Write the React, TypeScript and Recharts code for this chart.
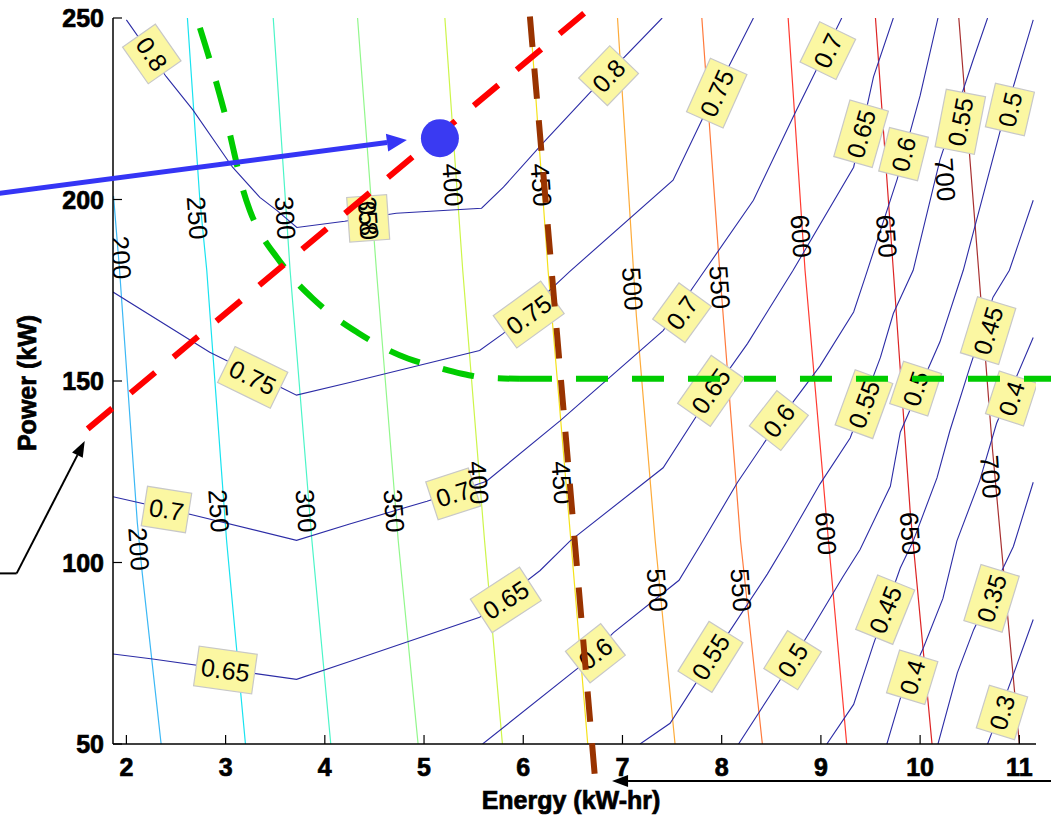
import React from "react";
import {
  ComposedChart,
  Line,
  Scatter,
  XAxis,
  YAxis,
  ReferenceLine,
  ReferenceDot,
  Label,
} from "recharts";

type Pt = [number, number];

const FONT = "Arial, 'Liberation Sans', Helvetica, sans-serif";

const xTicks = [2, 3, 4, 5, 6, 7, 8, 9, 10, 11];
const yTicks = [50, 100, 150, 200, 250];
const xDomain: [number, number] = [1.865, 11.168];
const yDomain: [number, number] = [50, 250];

// energy contours
const e200: Pt[] = [[1.87, 201], [1.93, 181], [2.11, 111], [2.16, 97], [2.35, 50]];
const e250: Pt[] = [[2.615, 250], [2.74, 200], [2.81, 180.5], [3.01, 106], [3.2, 50]];
const e300: Pt[] = [[3.48, 250], [3.65, 180.5], [3.87, 106], [4.06, 50]];
const e350: Pt[] = [[4.33, 250], [4.52, 180.5], [4.74, 106], [4.94, 50]];
const e400: Pt[] = [[5.21, 250], [5.39, 180.5], [5.61, 106], [5.79, 50]];
const e450: Pt[] = [[6.07, 250], [6.25, 180.5], [6.48, 106], [6.65, 50]];
const e500: Pt[] = [[6.95, 250], [7.14, 168], [7.33, 106], [7.53, 50]];
const e550: Pt[] = [[7.8, 250], [7.98, 180.5], [8.19, 106], [8.41, 50]];
const e600: Pt[] = [[8.67, 250], [8.84, 180.5], [9.05, 114], [9.26, 50]];
const e650: Pt[] = [[9.55, 250], [9.73, 180.5], [9.9, 114], [10.12, 50]];
const e700: Pt[] = [[10.39, 250], [10.59, 180.5], [10.73, 131], [11.0, 50]];

const energyLines = [e200, e250, e300, e350, e400, e450, e500, e550, e600, e650, e700];
const energyColors = [
  "#3cb8f5", "#19e3f0", "#4cf5c8", "#92f78c", "#cdf54a", "#f5e21a",
  "#fdab3a", "#ff7a3c", "#ff3a30", "#dd2424", "#a83030",
];

// efficiency contours
const eff80: Pt[] = [[2.0, 249.5], [2.4, 233.9], [2.67, 224.7], [3.07, 208.9], [3.345, 200.6], [3.516, 197], [3.718, 192.3], [4.2, 194], [4.72, 196.2], [5.58, 197.6], [5.8, 203.4], [6.2, 215.6], [6.67, 229.4], [7.4, 250]];
const eff75: Pt[] = [[1.865, 174.5], [2.84, 157.9], [3.715, 146.1], [4.25, 149.6], [5.56, 158.4], [5.8, 163.1], [6.47, 180.2], [7.51, 205.3], [7.85, 224.7], [8.32, 250]];
const eff70: Pt[] = [[1.865, 118.1], [2.64, 113.3], [3.715, 106.1], [4.25, 110.6], [5.03, 116.9], [5.63, 122.4], [6.37, 139], [7.41, 163.9], [7.78, 178.5], [8.32, 199.8], [8.72, 222.7], [8.92, 233.8], [9.21, 250]];
const eff65: Pt[] = [[1.865, 74.8], [2.265, 73.4], [3.715, 67.8], [4.25, 72.7], [5.56, 84.9], [6.17, 97.8], [6.47, 105.9], [7.41, 126.1], [7.78, 141.8], [8.26, 160.3], [8.72, 180.5], [9.33, 208.9], [9.53, 233.8], [9.73, 250]];
const eff60: Pt[] = [[5.59, 50], [6.57, 71.3], [6.91, 80.7], [7.57, 95.1], [7.81, 105.9], [8.16, 122.1], [8.59, 139.5], [8.99, 154.1], [9.33, 169], [9.45, 178.9], [9.77, 205.7], [10.0, 228.6], [10.18, 250]];
const eff55: Pt[] = [[7.177, 50], [7.48, 55.7], [7.9, 73.6], [8.46, 96.8], [8.66, 105.9], [8.99, 121.6], [9.295, 134.3], [9.6, 156.5], [9.73, 168.6], [9.93, 180.5], [10.2, 210.9], [10.535, 238.5], [10.68, 250]];
const eff50: Pt[] = [[8.17, 50], [8.59, 67.7], [8.92, 82.3], [9.225, 96.2], [9.395, 103.6], [9.7, 121], [9.8, 135.9], [10.2, 160.8], [10.435, 180.5], [10.81, 219.2], [11.14, 249.5]];
const eff45: Pt[] = [[9.06, 50], [9.33, 60.9], [9.53, 77.5], [9.8, 98.5], [9.93, 105.9], [10.17, 123.3], [10.3, 136.3], [10.5, 153.7], [10.735, 173.1], [10.9, 180.5], [11.14, 199.8]];
const eff40: Pt[] = [[9.665, 50], [9.8, 62.5], [10.03, 76.3], [10.23, 90.1], [10.37, 105.9], [10.6, 122.5], [10.77, 138.3], [11.14, 162]];
const eff35: Pt[] = [[10.18, 50], [10.375, 69.6], [10.54, 81.5], [10.94, 104.4], [11.14, 122.1]];
const eff30: Pt[] = [[10.68, 50], [10.81, 59.4], [11.14, 84.3]];

const effLines = [eff80, eff75, eff70, eff65, eff60, eff55, eff50, eff45, eff40, eff35, eff30];

// contour labels: value, position, angle along the contour
const effLabels = [
  { text: "0.8", x: 2.256, y: 240.1, rot: 55 },
  { text: "0.8", x: 4.437, y: 194.8, rot: 86 },
  { text: "0.8", x: 6.86, y: 234.1, rot: -46 },
  { text: "0.75", x: 3.273, y: 151, rot: 26 },
  { text: "0.75", x: 6.055, y: 168.3, rot: -36 },
  { text: "0.75", x: 7.95, y: 229.3, rot: -66 },
  { text: "0.7", x: 2.404, y: 114.6, rot: 9 },
  { text: "0.7", x: 5.294, y: 118.9, rot: -18 },
  { text: "0.7", x: 7.6, y: 168.8, rot: -54 },
  { text: "0.7", x: 9.07, y: 241, rot: -64 },
  { text: "0.65", x: 2.998, y: 70.4, rot: 8 },
  { text: "0.65", x: 5.824, y: 89.7, rot: -33 },
  { text: "0.65", x: 7.89, y: 147.3, rot: -55 },
  { text: "0.65", x: 9.405, y: 218.1, rot: -74 },
  { text: "0.6", x: 6.727, y: 75, rot: -38 },
  { text: "0.6", x: 8.576, y: 139.1, rot: -52 },
  { text: "0.6", x: 9.833, y: 212.5, rot: -76 },
  { text: "0.55", x: 7.887, y: 74, rot: -58 },
  { text: "0.55", x: 9.434, y: 143.6, rot: -70 },
  { text: "0.55", x: 10.405, y: 221.4, rot: -79 },
  { text: "0.5", x: 8.715, y: 73.1, rot: -58 },
  { text: "0.5", x: 9.955, y: 147.9, rot: -72 },
  { text: "0.5", x: 10.905, y: 224.8, rot: -77 },
  { text: "0.45", x: 9.648, y: 87, rot: -68 },
  { text: "0.45", x: 10.685, y: 163.9, rot: -73 },
  { text: "0.4", x: 9.92, y: 68.4, rot: -73 },
  { text: "0.4", x: 10.92, y: 145.2, rot: -72 },
  { text: "0.35", x: 10.72, y: 90.1, rot: -73 },
  { text: "0.3", x: 10.825, y: 58.7, rot: -73 },
];

const energyLabels = [
  { text: "200", x: 1.944, y: 184 },
  { text: "200", x: 2.125, y: 103.7 },
  { text: "250", x: 2.714, y: 194.9 },
  { text: "250", x: 2.93, y: 114.2 },
  { text: "300", x: 3.601, y: 194.9 },
  { text: "300", x: 3.81, y: 114.2 },
  { text: "350", x: 4.437, y: 194.8 },
  { text: "350", x: 4.696, y: 114.2 },
  { text: "400", x: 5.29, y: 204 },
  { text: "400", x: 5.545, y: 122 },
  { text: "450", x: 6.18, y: 204 },
  { text: "450", x: 6.39, y: 122 },
  { text: "500", x: 7.1, y: 175.4 },
  { text: "500", x: 7.35, y: 92.4 },
  { text: "550", x: 7.98, y: 175.8 },
  { text: "550", x: 8.195, y: 92.4 },
  { text: "600", x: 8.8, y: 189.9 },
  { text: "600", x: 9.05, y: 108 },
  { text: "650", x: 9.66, y: 189.9 },
  { text: "650", x: 9.9, y: 108 },
  { text: "700", x: 10.25, y: 205.5 },
  { text: "700", x: 10.71, y: 123.6 },
];

// overlays
const greenCurve: Pt[] = [[2.741, 247.3], [2.84, 238.5], [2.941, 228.8], [3.022, 220.5], [3.092, 212.2], [3.163, 203.9], [3.244, 197.0], [3.365, 190.1], [3.516, 184.1], [3.698, 177.7], [3.88, 172.7], [4.081, 168.0], [4.333, 163.3], [4.555, 159.7], [4.837, 156.2], [5.079, 154.2], [5.382, 152.0], [5.634, 150.9], [5.967, 150.6]];
const greenTail: Pt[] = [[5.967, 150.6], [11.32, 150.6]];
const redLine: Pt[] = [[1.61, 136.8], [6.622, 251.5]];
const brownLine: Pt[] = [[6.067, 250.4], [6.72, 41.6]];
const operatingPoint: Pt = [5.16, 216.9];
const blueArrow: Pt[] = [[0.722, 201.7], [4.827, 216.4]];
const leftArrowTail: Pt[] = [[0.722, 97], [0.894, 97]];
const leftArrow: Pt[] = [[0.894, 97], [1.58, 133.5]];
const bottomArrow: Pt[] = [[11.32, 39.8], [6.895, 39.8]];

const toXY = (pts: Pt[]) => pts.map(([x, y]) => ({ x, y }));

const charW = (s: string) =>
  s.split("").reduce((w, c) => w + (c === "." ? 0.278 : 0.556), 0);

function EffBox(props: any) {
  const { cx, cy, payload } = props;
  const fs = 25;
  const w = charW(payload.text) * fs + 10;
  const h = 40;
  return (
    <g transform={`translate(${cx},${cy}) rotate(${payload.rot})`}>
      <rect x={-w / 2} y={-h / 2} width={w} height={h} fill="#fbf7a2" stroke="#c8c8c8" strokeWidth={1.2} />
      <text x={0} y={9} textAnchor="middle" fontSize={fs} fontFamily={FONT} fill="#000">
        {payload.text}
      </text>
    </g>
  );
}

function EnergyText(props: any) {
  const { cx, cy, payload } = props;
  return (
    <text
      transform={`translate(${cx},${cy}) rotate(86)`}
      x={0}
      y={9}
      textAnchor="middle"
      fontSize={26}
      fontFamily={FONT}
      fill="#000"
    >
      {payload.text}
    </text>
  );
}

function ArrowShape(props: any) {
  const { x1, y1, x2, y2, color, width, head, half } = props;
  const a = Math.atan2(y2 - y1, x2 - x1);
  const bx = x2 - head * Math.cos(a);
  const by = y2 - head * Math.sin(a);
  const px = -Math.sin(a) * half;
  const py = Math.cos(a) * half;
  return (
    <g>
      <line x1={x1} y1={y1} x2={bx} y2={by} stroke={color} strokeWidth={width} />
      <polygon points={`${x2},${y2} ${bx + px},${by + py} ${bx - px},${by - py}`} fill={color} />
    </g>
  );
}

const boldText = { fontSize: 25, fontWeight: "bold" as const, fontFamily: FONT, fill: "#000", stroke: "#000", strokeWidth: 0.7 };

const BottomTick = ({ x, y, payload }: any) => (
  <g>
    <line x1={x} y1={y} x2={x} y2={y - 9} stroke="#000" strokeWidth={1.2} />
    <text x={x} y={y + 32} textAnchor="middle" {...boldText}>
      {payload.value}
    </text>
  </g>
);

const LeftTick = ({ x, y, payload }: any) => (
  <g>
    <line x1={x} y1={y} x2={x + 9} y2={y} stroke="#000" strokeWidth={1.2} />
    <text x={x - 9} y={y + 9} textAnchor="end" {...boldText}>
      {payload.value}
    </text>
  </g>
);

const TopTick = ({ x, y }: any) => (
  <line x1={x} y1={y} x2={x} y2={y + 9} stroke="#000" strokeWidth={1.2} />
);

const RightTick = ({ x, y }: any) => (
  <line x1={x} y1={y} x2={x - 9} y2={y} stroke="#000" strokeWidth={1.2} />
);

const seg = (pts: Pt[]) => pts.map(([x, y]) => ({ x, y }));

export default function App() {
  const axisLine = { stroke: "#000", strokeWidth: 1.5 };
  return (
    <div style={{ position: "absolute", left: 0, top: 0, background: "#fff" }}>
      <ComposedChart width={1051} height={819} margin={{ top: 18, right: 15, bottom: 0, left: 0 }}>
        <XAxis
          dataKey="x"
          type="number"
          domain={xDomain}
          ticks={xTicks}
          interval={0}
          allowDataOverflow
          height={75}
          tickSize={0}
          tickMargin={0}
          tickLine={false}
          axisLine={axisLine}
          tick={BottomTick}
        >
          <Label
            content={() => (
              <text x={571} y={809} textAnchor="middle" {...boldText}>
                Energy (kW-hr)
              </text>
            )}
          />
        </XAxis>
        <XAxis
          xAxisId="top"
          orientation="top"
          type="number"
          domain={xDomain}
          ticks={xTicks}
          interval={0}
          allowDataOverflow
          height={0}
          tickSize={0}
          tickMargin={0}
          tickLine={false}
          axisLine={axisLine}
          tick={TopTick}
        />
        <YAxis
          dataKey="y"
          type="number"
          domain={yDomain}
          ticks={yTicks}
          interval={0}
          allowDataOverflow
          width={113}
          tickSize={0}
          tickMargin={0}
          tickLine={false}
          axisLine={axisLine}
          tick={LeftTick}
        >
          <Label
            content={() => (
              <text transform="translate(36,383) rotate(-90)" x={0} y={0} textAnchor="middle" {...boldText}>
                Power (kW)
              </text>
            )}
          />
        </YAxis>
        <YAxis
          yAxisId="right"
          orientation="right"
          type="number"
          domain={yDomain}
          ticks={yTicks}
          interval={0}
          allowDataOverflow
          width={0}
          tickSize={0}
          tickMargin={0}
          tickLine={false}
          axisLine={axisLine}
          tick={RightTick}
        />

        {energyLines.map((pts, i) => (
          <Line
            key={`e${i}`}
            data={toXY(pts)}
            dataKey="y"
            type="linear"
            stroke={energyColors[i]}
            strokeWidth={1.2}
            dot={false}
            activeDot={false}
            isAnimationActive={false}
          />
        ))}
        {effLines.map((pts, i) => (
          <Line
            key={`f${i}`}
            data={toXY(pts)}
            dataKey="y"
            type="linear"
            stroke="#2c2ca6"
            strokeWidth={1.1}
            dot={false}
            activeDot={false}
            isAnimationActive={false}
          />
        ))}

        <Scatter data={effLabels} dataKey="y" shape={EffBox} isAnimationActive={false} />
        <Scatter data={energyLabels} dataKey="y" shape={EnergyText} isAnimationActive={false} />

        <Line
          data={toXY(greenCurve)}
          dataKey="y"
          type="monotone"
          stroke="#00cc00"
          strokeWidth={6}
          strokeDasharray="32 24"
          dot={false}
          activeDot={false}
          isAnimationActive={false}
          zIndex={700}
        />
        <ReferenceLine segment={seg(greenTail)} ifOverflow="visible" stroke="#00cc00" strokeWidth={6} strokeDasharray="32 24" zIndex={700} />
        <ReferenceLine segment={seg(redLine)} ifOverflow="visible" stroke="#ff0000" strokeWidth={6} strokeDasharray="32 23.95" zIndex={700} />
        <ReferenceLine segment={seg(brownLine)} ifOverflow="visible" stroke="#993300" strokeWidth={6} strokeDasharray="30.5 21.6" zIndex={700} />

        <ReferenceDot x={operatingPoint[0]} y={operatingPoint[1]} r={19} fill="#3a3af2" stroke="none" zIndex={800} />

        <ReferenceLine
          segment={seg(blueArrow)}
          ifOverflow="visible"
          zIndex={900}
          shape={(p: any) => <ArrowShape {...p} color="#3535f5" width={5} head={20} half={9} />}
        />
        <ReferenceLine segment={seg(leftArrowTail)} ifOverflow="visible" stroke="#000" strokeWidth={2} zIndex={900} />
        <ReferenceLine
          segment={seg(leftArrow)}
          ifOverflow="visible"
          zIndex={900}
          shape={(p: any) => <ArrowShape {...p} color="#000" width={2} head={16} half={6} />}
        />
        <ReferenceLine
          segment={seg(bottomArrow)}
          ifOverflow="visible"
          zIndex={900}
          shape={(p: any) => <ArrowShape {...p} color="#000" width={2} head={16} half={6} />}
        />
      </ComposedChart>
    </div>
  );
}
